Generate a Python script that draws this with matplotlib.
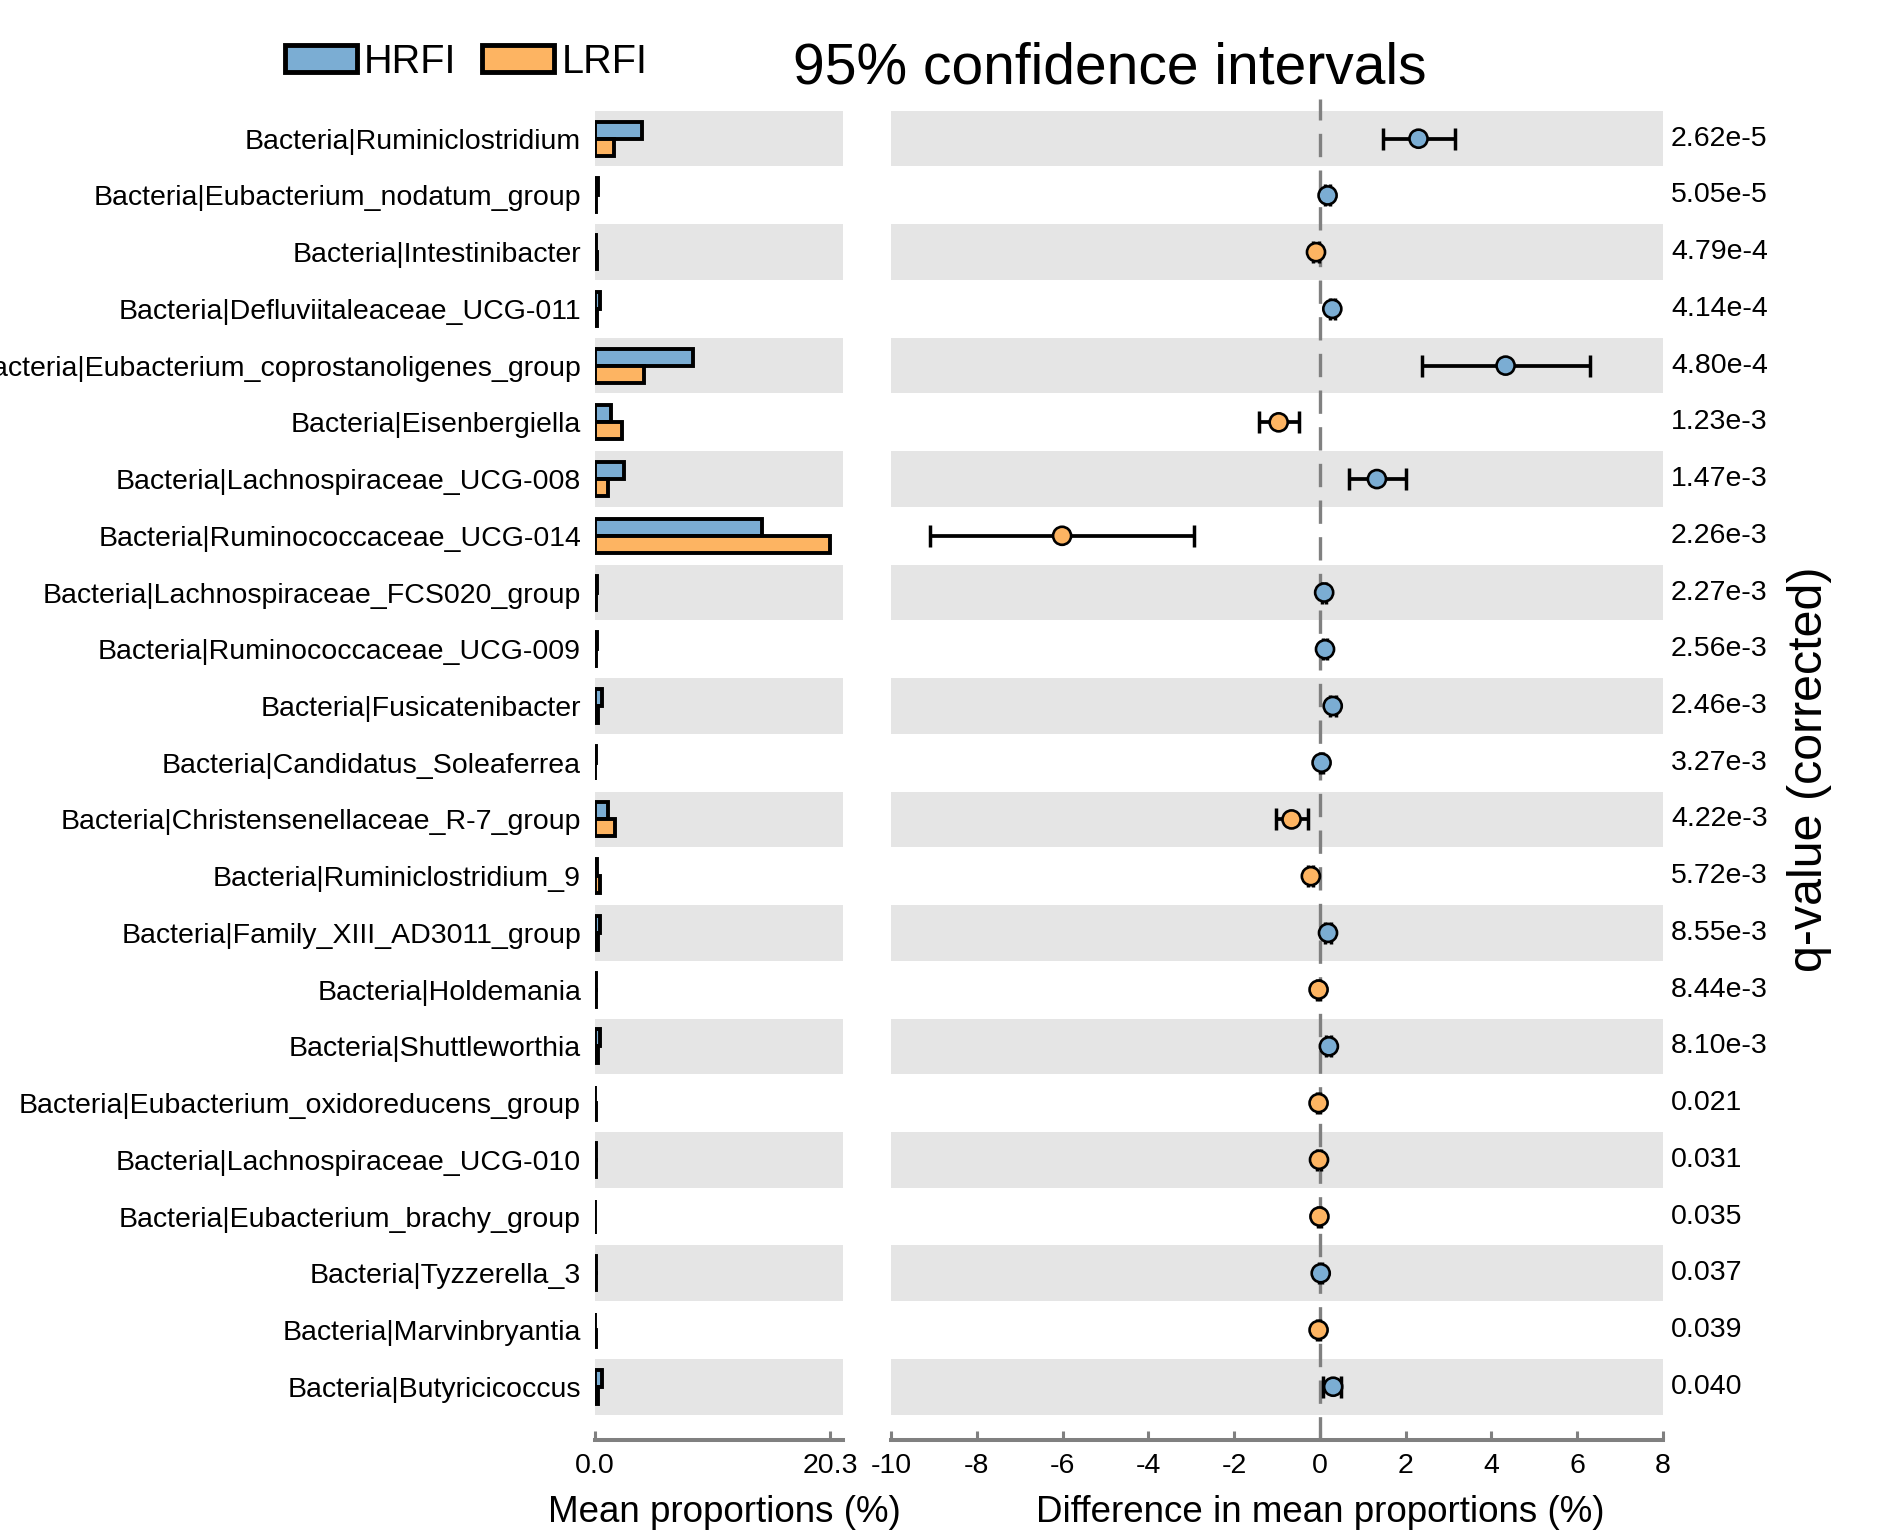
"""Extended error bar plot: mean proportions and 95% CI of differences (HRFI vs LRFI)."""

import matplotlib

matplotlib.use("Agg")
import matplotlib.pyplot as plt
import matplotlib.transforms as mtransforms
from matplotlib.patches import Patch

plt.rcParams["font.family"] = ["Liberation Sans", "DejaVu Sans"]
plt.rcParams["axes.unicode_minus"] = False

# ---- data ----
taxa = [
    "Bacteria|Ruminiclostridium",
    "Bacteria|Eubacterium_nodatum_group",
    "Bacteria|Intestinibacter",
    "Bacteria|Defluviitaleaceae_UCG-011",
    "Bacteria|Eubacterium_coprostanoligenes_group",
    "Bacteria|Eisenbergiella",
    "Bacteria|Lachnospiraceae_UCG-008",
    "Bacteria|Ruminococcaceae_UCG-014",
    "Bacteria|Lachnospiraceae_FCS020_group",
    "Bacteria|Ruminococcaceae_UCG-009",
    "Bacteria|Fusicatenibacter",
    "Bacteria|Candidatus_Soleaferrea",
    "Bacteria|Christensenellaceae_R-7_group",
    "Bacteria|Ruminiclostridium_9",
    "Bacteria|Family_XIII_AD3011_group",
    "Bacteria|Holdemania",
    "Bacteria|Shuttleworthia",
    "Bacteria|Eubacterium_oxidoreducens_group",
    "Bacteria|Lachnospiraceae_UCG-010",
    "Bacteria|Eubacterium_brachy_group",
    "Bacteria|Tyzzerella_3",
    "Bacteria|Marvinbryantia",
    "Bacteria|Butyricicoccus",
]
hrfi_mean = [4.05, 0.25, 0.10, 0.45, 8.46, 1.40, 2.49, 14.4, 0.15, 0.20, 0.60, 0.06,
             1.10, 0.20, 0.45, 0.05, 0.45, 0.02, 0.05, 0.02, 0.12, 0.02, 0.60]
lrfi_mean = [1.66, 0.07, 0.20, 0.16, 4.20, 2.33, 1.14, 20.3, 0.05, 0.08, 0.30, 0.02,
             1.75, 0.40, 0.28, 0.08, 0.25, 0.05, 0.07, 0.03, 0.10, 0.05, 0.30]
diff = [2.30, 0.18, -0.09, 0.29, 4.33, -0.96, 1.33, -6.01, 0.10, 0.12, 0.30, 0.04,
        -0.66, -0.21, 0.19, -0.03, 0.21, -0.03, -0.02, -0.01, 0.02, -0.03, 0.31]
ci_low = [1.48, 0.12, -0.15, 0.23, 2.37, -1.42, 0.69, -9.09, 0.05, 0.07, 0.23, 0.00,
          -1.02, -0.27, 0.13, -0.07, 0.15, -0.07, -0.06, -0.04, -0.02, -0.07, 0.08]
ci_high = [3.14, 0.24, -0.03, 0.35, 6.29, -0.49, 2.00, -2.93, 0.15, 0.17, 0.37, 0.08,
           -0.27, -0.15, 0.25, 0.01, 0.27, 0.01, 0.02, 0.02, 0.06, 0.01, 0.50]
q_values = ["2.62e-5", "5.05e-5", "4.79e-4", "4.14e-4", "4.80e-4", "1.23e-3", "1.47e-3",
            "2.26e-3", "2.27e-3", "2.56e-3", "2.46e-3", "3.27e-3", "4.22e-3", "5.72e-3",
            "8.55e-3", "8.44e-3", "8.10e-3", "0.021", "0.031", "0.035", "0.037", "0.039",
            "0.040"]
prop_max = 20.3
diff_ticks = [-10, -8, -6, -4, -2, 0, 2, 4, 6, 8]

# ---- style ----
BLUE = "#7badd3"
ORANGE = "#fdb462"
BAND = "#e5e5e5"
AXGREY = "#808080"
LABEL_FS = 20.5
AXIS_FS = 26.5

rows = list(range(len(taxa)))
ylim = (len(taxa) - 1 + 0.94, -0.70)

fig = plt.figure(figsize=(18.84, 15.3), dpi=100)
ax_bar = fig.add_axes([0.3158, 0.0588, 0.1316, 0.8765])
ax_ci = fig.add_axes([0.4729, 0.0588, 0.4098, 0.8765])

for ax in (ax_bar, ax_ci):
    ax.set_ylim(*ylim)
    for i in rows[::2]:
        ax.axhspan(i - 0.49, i + 0.49, color=BAND, lw=0, zorder=0)
    for side in ("top", "right", "left"):
        ax.spines[side].set_visible(False)
    ax.spines["bottom"].set_color(AXGREY)
    ax.spines["bottom"].set_linewidth(2.9)
    ax.tick_params(axis="x", direction="in", length=6.5, width=2.2, color=AXGREY,
                   labelsize=LABEL_FS, pad=9)

# left panel: mean proportions
bar_h = 0.3
ax_bar.barh([r - bar_h / 2 for r in rows], hrfi_mean, height=bar_h, color=BLUE,
            edgecolor="black", linewidth=2.8, zorder=2)
ax_bar.barh([r + bar_h / 2 for r in rows], lrfi_mean, height=bar_h, color=ORANGE,
            edgecolor="black", linewidth=2.8, zorder=2)
ax_bar.set_xlim(0, prop_max * 1.054)
ax_bar.set_xticks([0, prop_max])
ax_bar.set_xticklabels(["0.0", f"{prop_max:.1f}"])
ax_bar.set_yticks(rows)
ax_bar.set_yticklabels(taxa, fontsize=LABEL_FS)
ax_bar.tick_params(axis="y", length=0, pad=10)
ax_bar.set_xlabel("Mean proportions (%)", fontsize=AXIS_FS)
ax_bar.xaxis.label.set_va("center")
ax_bar.xaxis.set_label_coords(0.52, -0.054)

# right panel: difference with 95% CI
ax_ci.axvline(0, color=AXGREY, lw=2.4, dashes=(7, 4), zorder=1)
xerr = [[d - lo for d, lo in zip(diff, ci_low)], [hi - d for d, hi in zip(diff, ci_high)]]
ax_ci.errorbar(diff, rows, xerr=xerr, fmt="none", ecolor="black", elinewidth=2.7,
               capsize=8, capthick=2.5, zorder=2)
colors = [BLUE if d > 0 else ORANGE for d in diff]
ax_ci.scatter(diff, rows, s=13 ** 2, c=colors, edgecolors="black", linewidths=1.9,
              zorder=3)
ax_ci.set_xlim(diff_ticks[0], diff_ticks[-1])
ax_ci.set_xticks(diff_ticks)
ax_ci.set_yticks([])
ax_ci.set_xlabel("Difference in mean proportions (%)", fontsize=AXIS_FS)
ax_ci.xaxis.label.set_va("center")
ax_ci.xaxis.set_label_coords(
    (0 - diff_ticks[0]) / (diff_ticks[-1] - diff_ticks[0]), -0.054)

trans = mtransforms.blended_transform_factory(ax_ci.transAxes, ax_ci.transData)
for i in rows:
    ax_ci.text(1.0104, i, q_values[i], transform=trans, ha="left", va="center",
               fontsize=LABEL_FS)
ax_ci.text(1.19, 0.5, "q-value (corrected)", transform=ax_ci.transAxes, rotation=90,
           ha="center", va="center", fontsize=34.8)

fig.text(0.589, 0.955, "95% confidence intervals", ha="center", va="center", fontsize=41)

handles = [Patch(facecolor=BLUE, edgecolor="black", linewidth=3.5, label="HRFI"),
           Patch(facecolor=ORANGE, edgecolor="black", linewidth=3.5, label="LRFI")]
fig.legend(handles=handles, loc="center left", bbox_to_anchor=(0.1513, 0.9598),
           ncol=2, frameon=False, fontsize=28.5, handlelength=1.82, handleheight=0.69,
           handletextpad=0.18, columnspacing=0.65, borderpad=0, borderaxespad=0)

fig.savefig("out.png", dpi=100)
plt.close(fig)
